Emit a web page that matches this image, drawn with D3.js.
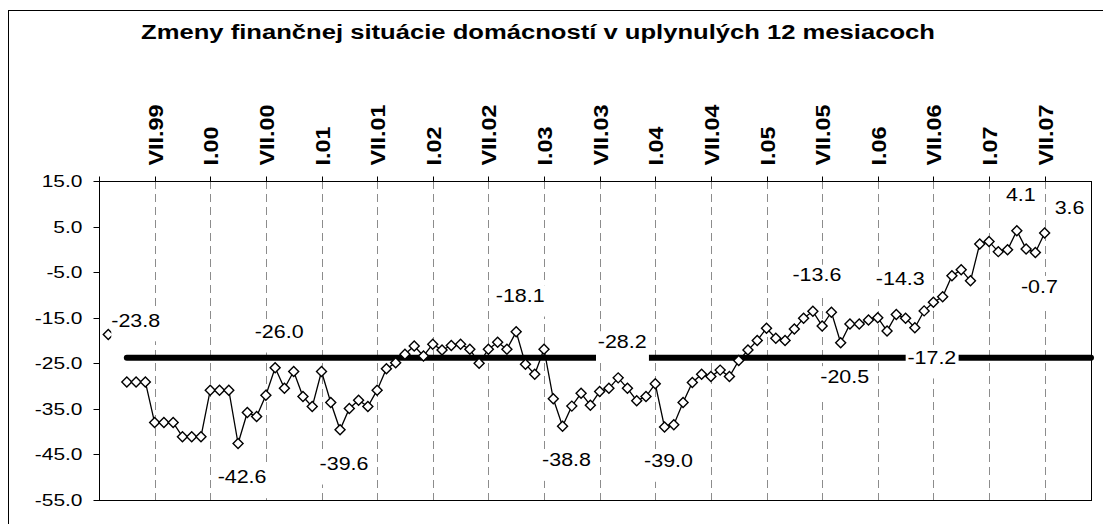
<!DOCTYPE html>
<html>
<head>
<meta charset="utf-8">
<script src="https://cdn.jsdelivr.net/npm/d3@7/dist/d3.min.js"></script>
<style>
  body { margin: 0; background: #fff; }
  .chart { display: block; font-family: "Liberation Sans", Arial, sans-serif; }
</style>
</head>
<body>
<div class="chartArea"></div>
<script>
  // chart title
  const title = "Zmeny finančnej situácie domácností v uplynulých 12 mesiacoch";

  // month index 0 = I.99, a tick every 6 months, labels from VII.99
  const tickLabels = ["VII.99", "I.00", "VII.00", "I.01", "VII.01", "I.02", "VII.02", "I.03",
                      "VII.03", "I.04", "VII.04", "I.05", "VII.05", "I.06", "VII.06", "I.07", "VII.07"];
  const monthCount = 108;
  const firstMonth = 3; // series starts in IV.99

  // monthly balance values by year
  const values1999 = [-29.1, -29.1, -29.1, -38.0, -38.0, -38.0, -41.1, -41.1, -41.1];
  const values2000 = [-30.9, -30.9, -30.9, -42.6, -35.8, -36.7, -32.0, -26.0, -30.5, -26.8, -32.3, -34.5];
  const values2001 = [-26.8, -33.6, -39.6, -34.9, -33.1, -34.5, -30.9, -26.2, -24.9, -23.0, -21.2, -23.4];
  const values2002 = [-20.8, -22.1, -21.1, -20.8, -21.9, -25.0, -21.9, -20.4, -21.9, -18.1, -25.2, -27.4];
  const values2003 = [-21.9, -32.8, -38.8, -34.4, -31.6, -34.2, -31.2, -30.5, -28.2, -30.5, -33.2, -32.3];
  const values2004 = [-29.5, -39.0, -38.5, -33.6, -29.2, -27.4, -27.9, -26.5, -27.9, -24.4, -22.1, -20.0];
  const values2005 = [-17.3, -19.5, -20.0, -17.5, -15.1, -13.6, -16.8, -13.8, -20.5, -16.4, -16.4, -15.5];
  const values2006 = [-15.0, -17.9, -14.3, -15.1, -17.2, -13.5, -11.6, -10.4, -5.8, -4.5, -6.9, 1.2];
  const values2007 = [1.7, -0.5, -0.1, 4.1, 0.1, -0.7, 3.6];

  // long-term average and the lone early point (II.99)
  const meanValue = -23.8;
  const lonePoint = [1, -18.7];

  // month indices that carry a value label, and where it goes
  const labelMonths = [19, 15, 26, 45, 56, 50, 61, 77, 80, 86, 88, 99, 101, 102];
  const labelSides  = ["above", "below", "below", "above", "above", "below", "below",
                       "above", "below", "above", "below", "above", "below", "aboveRight"];

  const yTicks = [15, 5, -5, -15, -25, -35, -45, -55];

  const values = [].concat(values1999, values2000, values2001, values2002, values2003,
                           values2004, values2005, values2006, values2007);
  const series = values.map((v, i) => [firstMonth + i, v]);

  // plain hyphen as minus sign
  const fmt = d3.formatLocale({ decimal: ".", thousands: ",", grouping: [3],
                                currency: ["", ""], minus: "-" }).format(".1f");

  // size of the page and plot area
  const width = 1103, height = 524;
  const plot = { left: 99, right: 1091, top: 181, bottom: 500 };

  const svg = d3.select(".chartArea")
                .append("svg")
                .attr("class", "chart")
                .attr("width", width)
                .attr("height", height);

  // outer chart frame (its right and bottom edges fall off the picture)
  svg.append("rect")
     .attr("x", 8.5).attr("y", 10.5)
     .attr("width", 1200).attr("height", 600)
     .attr("fill", "#fff").attr("stroke", "#000");

  const x = d3.scaleLinear().domain([0, monthCount - 1]).range([plot.left, plot.right]);
  const y = d3.scaleLinear().domain([-55, 15]).range([plot.bottom, plot.top]);

  const tickMonths = d3.range(0, 103, 6);

  // title (text is stretched sideways, like the source rendering)
  svg.append("text")
     .attr("transform", "translate(538,39) scale(1.22,1)")
     .attr("text-anchor", "middle")
     .attr("font-size", 21)
     .attr("font-weight", "bold")
     .text(title);

  // dashed vertical grid
  svg.append("g")
     .selectAll("line")
     .data(tickMonths.slice(1))
     .enter()
     .append("line")
     .attr("x1", d => Math.round(x(d)) + 0.5)
     .attr("x2", d => Math.round(x(d)) + 0.5)
     .attr("y1", plot.top)
     .attr("y2", plot.bottom)
     .attr("stroke", "#8c8c8c")
     .attr("stroke-dasharray", "8,5");

  // plot frame
  svg.append("rect")
     .attr("x", plot.left + 0.5).attr("y", plot.top + 0.5)
     .attr("width", plot.right - plot.left).attr("height", plot.bottom - plot.top)
     .attr("fill", "none").attr("stroke", "#000");

  // top category axis with rotated labels
  const xAxis = svg.append("g")
     .attr("transform", `translate(0.5,${plot.top + 0.5})`)
     .call(d3.axisTop(x)
             .tickValues(tickMonths)
             .tickSize(5)
             .tickFormat(d => d === 0 ? "" : tickLabels[d / 6 - 1]));
  xAxis.select(".domain").remove();
  xAxis.selectAll("line").attr("x1", 0).attr("x2", 0);
  xAxis.selectAll(".tick").attr("transform", d => `translate(${Math.round(x(d))},0)`);
  xAxis.selectAll("text")
       .attr("transform", "rotate(-90) scale(1.17,1)")
       .attr("x", 16 / 1.17).attr("y", 0).attr("dy", "0.36em")
       .attr("text-anchor", "start")
       .attr("font-size", 20)
       .attr("font-weight", "bold")
       .attr("font-family", null)
       .attr("fill", "#000");

  // left value axis
  const yAxis = svg.append("g")
     .attr("transform", `translate(${plot.left + 0.5},0.5)`)
     .call(d3.axisLeft(y).tickValues(yTicks).tickSize(6).tickFormat(fmt));
  yAxis.select(".domain").remove();
  yAxis.selectAll(".tick").attr("transform", d => `translate(0,${Math.round(y(d))})`);
  yAxis.selectAll("text")
       .attr("x", -13.4)
       .attr("transform", "scale(1.27,1)")
       .attr("font-size", 16.5)
       .attr("font-family", null)
       .attr("fill", "#000");

  // thick average line
  svg.append("line")
     .attr("x1", x(firstMonth)).attr("x2", x(monthCount - 1))
     .attr("y1", y(meanValue)).attr("y2", y(meanValue))
     .attr("stroke", "#000")
     .attr("stroke-width", 6)
     .attr("stroke-linecap", "round");

  // series line
  svg.append("path")
     .datum(series)
     .attr("d", d3.line().x(d => x(d[0])).y(d => y(d[1])))
     .attr("fill", "none")
     .attr("stroke", "#000")
     .attr("stroke-width", 1.3);

  // diamond markers
  const diamond = d3.symbol().type(d3.symbolSquare).size(50);
  svg.append("g")
     .selectAll("path")
     .data(series.concat([lonePoint]))
     .enter()
     .append("path")
     .attr("d", diamond)
     .attr("transform", d => `translate(${x(d[0])},${y(d[1])}) rotate(45)`)
     .attr("fill", "#fff")
     .attr("stroke", "#000")
     .attr("stroke-width", 1.4);

  // data labels with white boxes
  const labelScale = 1.16;
  const labelData = labelMonths.map((m, i) => ({
    month: m,
    value: values[m - firstMonth],
    side: labelSides[i]
  }));
  labelData.push({ month: lonePoint[0], value: lonePoint[1], side: "right", text: fmt(meanValue) });

  function labelPos(d) {
    const px = x(d.month), py = y(d.value);
    if (d.side === "above") return [px + 4, py - 30, "middle"];
    if (d.side === "below") return [px + (d.month === 88 ? 17 : 4), py + (d.month === 88 ? 36 : 40), "middle"];
    if (d.side === "aboveRight") return [px + 10, py - 19, "start"];
    return [px + 3, py - 8, "start"];
  }

  const labels = svg.append("g")
     .selectAll("g")
     .data(labelData)
     .enter()
     .append("g")
     .attr("transform", d => {
       const p = labelPos(d);
       return `translate(${p[0]},${p[1]}) scale(${labelScale},1)`;
     });

  labels.append("text")
     .attr("text-anchor", d => labelPos(d)[2])
     .attr("font-size", 18.5)
     .text(d => d.text || fmt(d.value));

  labels.each(function(d) {
    const g = d3.select(this);
    const b = g.select("text").node().getBBox();
    const padLeft = d.side === "right" ? 0 : 1.5;
    g.insert("rect", "text")
     .attr("x", b.x - padLeft).attr("y", b.y)
     .attr("width", b.width + padLeft + 2).attr("height", b.height + 11)
     .attr("fill", "#fff");
  });
</script>
</body>
</html>
